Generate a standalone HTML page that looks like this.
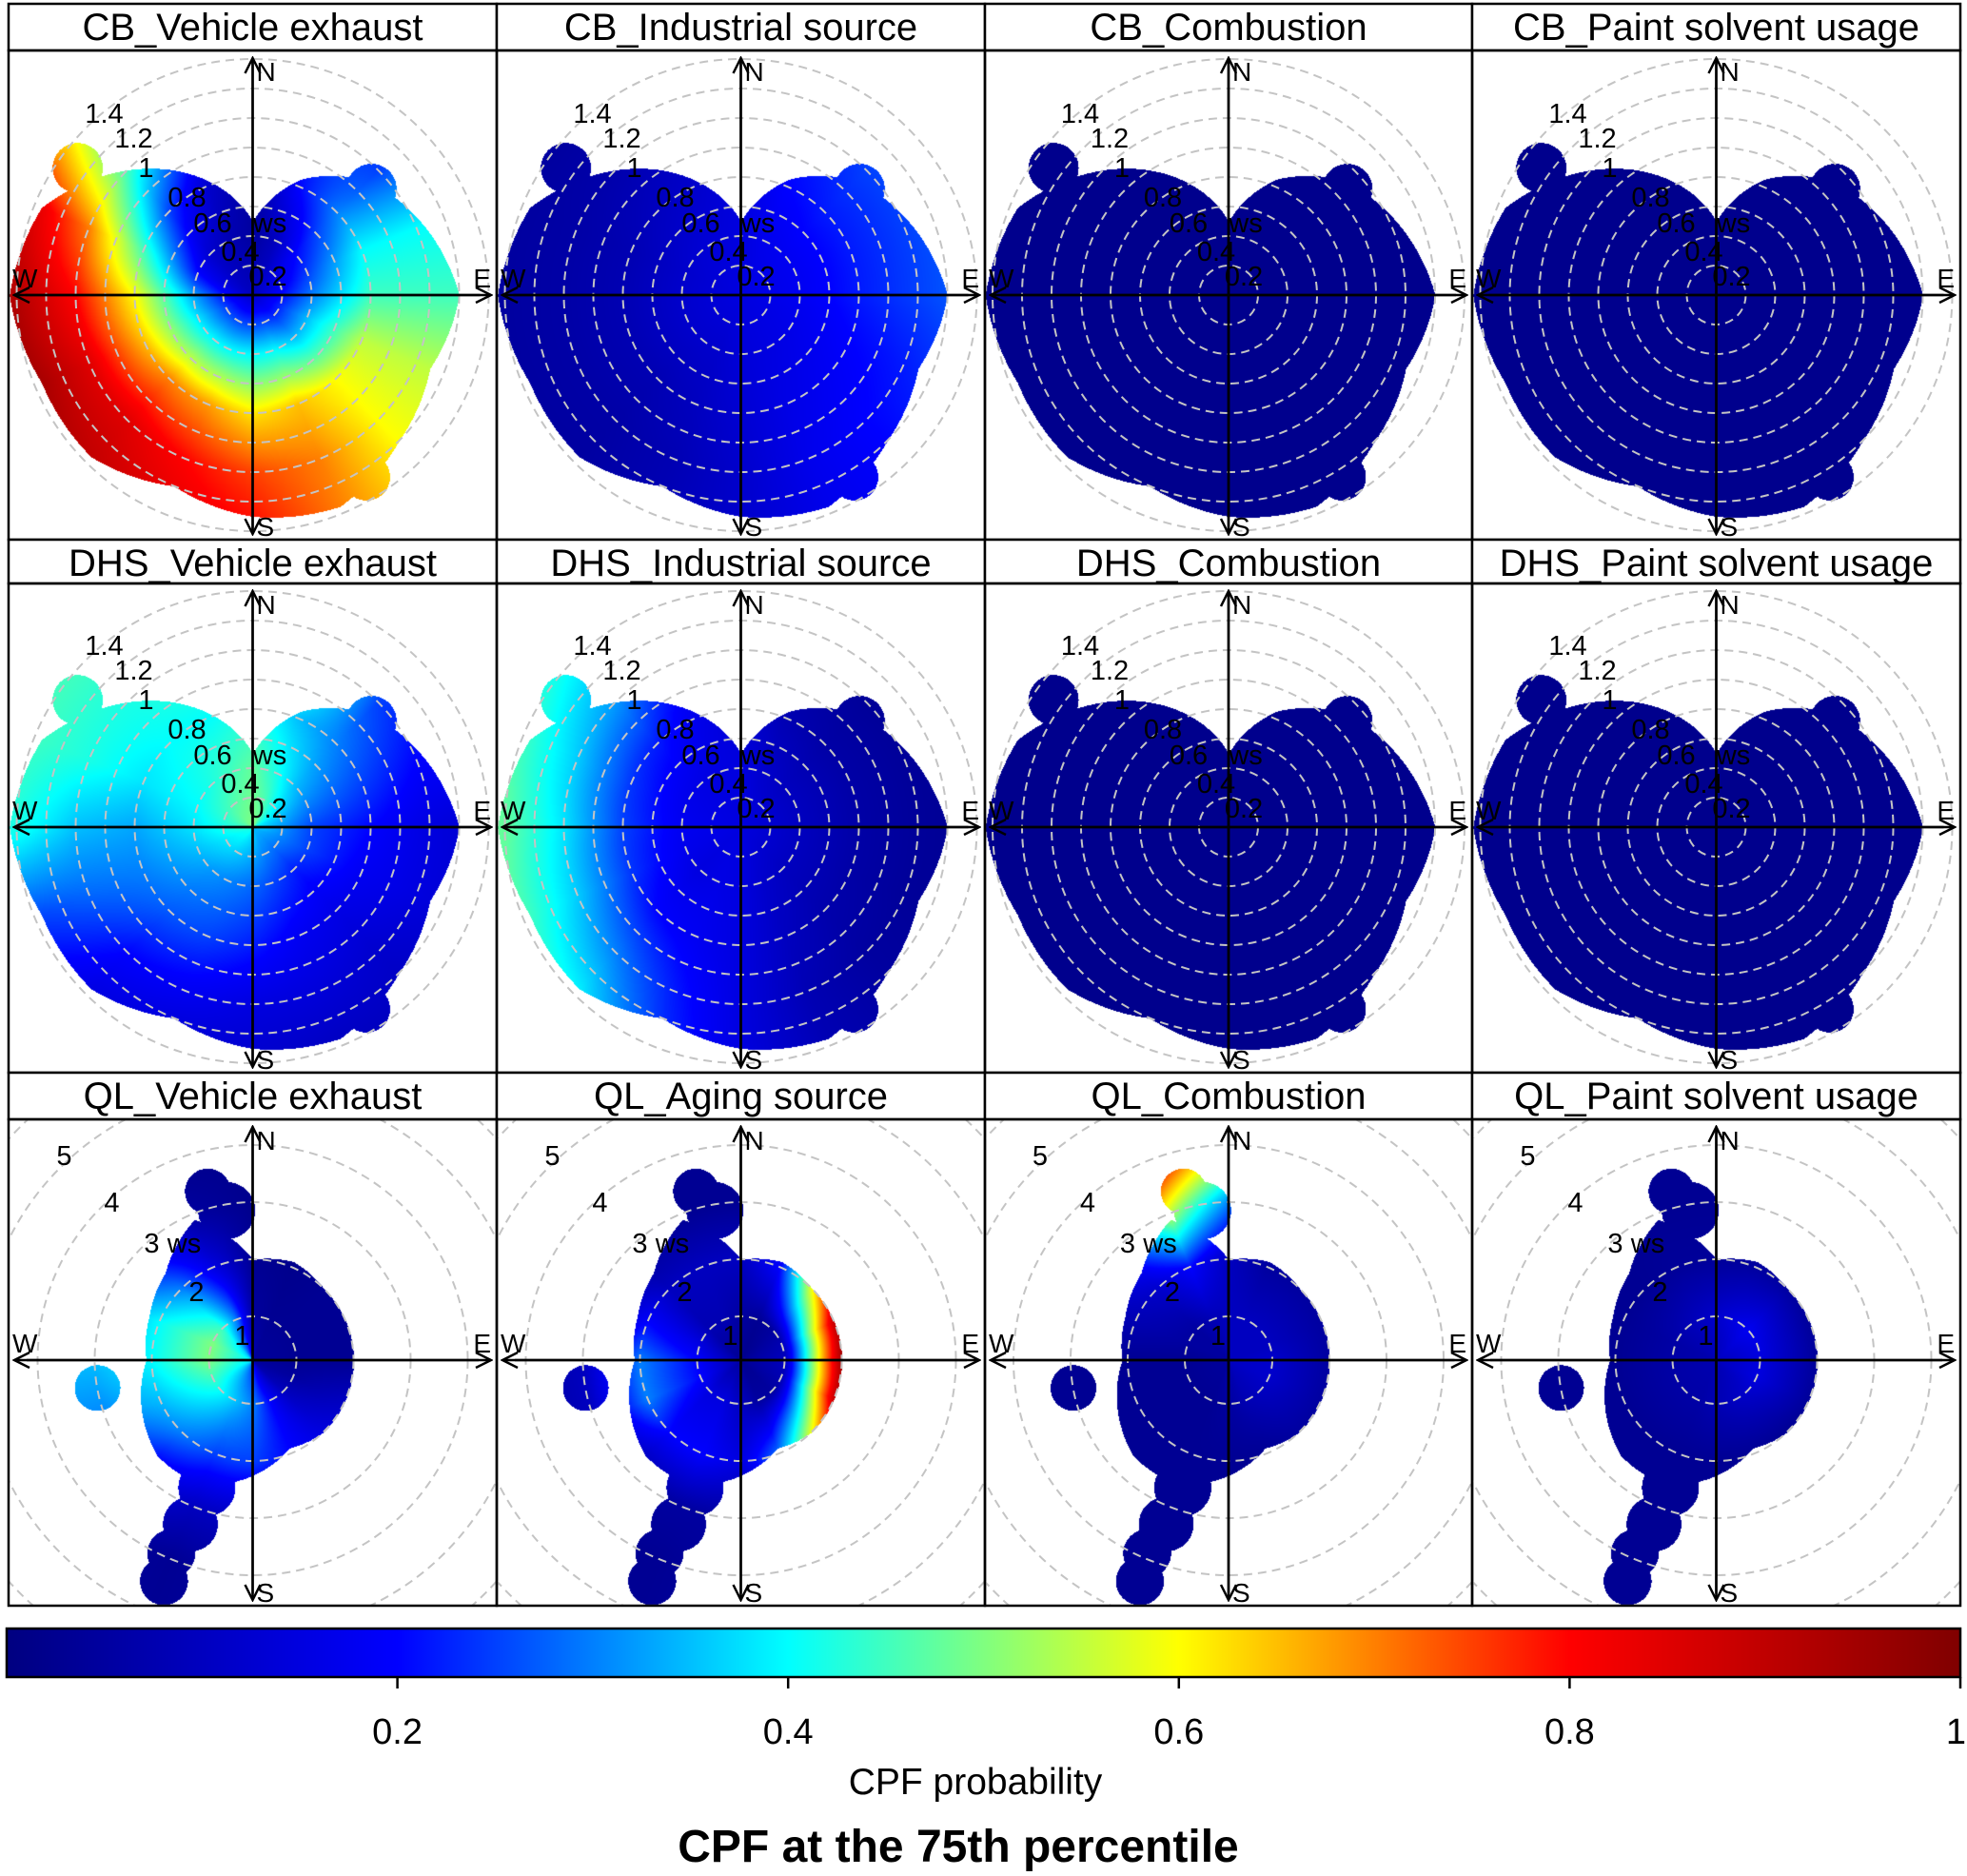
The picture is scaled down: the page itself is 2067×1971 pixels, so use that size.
<!DOCTYPE html>
<html><head><meta charset="utf-8">
<style>
html,body{margin:0;padding:0;background:#fff;}
#wrap{position:relative;width:2067px;height:1971px;overflow:hidden;}
canvas,svg{position:absolute;left:0;top:0;}
text{font-family:"Liberation Sans",sans-serif;}
</style></head>
<body>
<div id="wrap">
<canvas id="cv" width="2067" height="1971"></canvas>
<svg id="sv" width="2067" height="1971" xmlns="http://www.w3.org/2000/svg"></svg>
</div>
<script>
// ---- data ----
const dirNames = ['N','NNE','NE','ENE','E','ESE','SE','SSE','S','SSW','SW','WSW','W','WNW','NW','NNW'];
const wsLevelsA = [0,0.4,0.8,1.2,1.6];
const wsLevelsB = [0,1,2,3,4,5];
const ringLabelsA = [0.2,0.4,0.6,0.8,1,1.2,1.4];
const ringLabelsB = [1,2,3,4,5];
const colorTicks = [0.2,0.4,0.6,0.8,1];
const colorTickLabels = ['0.2','0.4','0.6','0.8','1'];
// outer extent (ws) per direction
const extentA = [0.5,0.85,1.1,1.25,1.4,1.3,1.4,1.55,1.5,1.4,1.55,1.55,1.65,1.55,1.2,0.85];
const extentB = [2.0,2.1,2.0,2.0,2.0,2.0,2.0,1.9,2.25,2.6,2.6,2.35,2.1,2.2,2.4,2.9];
// isolated blobs [direction deg, ws, radius ws]
const blobsA = [[306,1.47,0.17],[48,1.08,0.17],[148,1.45,0.16]];
const blobsB = [[350,2.9,0.5],[345,3.3,0.4],[200,2.6,0.5],[201,3.3,0.48],[203,3.9,0.42],[202,4.4,0.42],[260,3.0,0.4]];

const cbVehicle = [
[0.1,0.05,0.05,0.1,0.1],[0.1,0.1,0.2,0.25,0.25],[0.1,0.2,0.3,0.25,0.25],[0.1,0.25,0.4,0.4,0.4],
[0.12,0.3,0.45,0.45,0.45],[0.12,0.35,0.55,0.55,0.55],[0.12,0.35,0.6,0.6,0.6],[0.12,0.4,0.65,0.7,0.7],
[0.12,0.4,0.62,0.75,0.8],[0.12,0.4,0.68,0.8,0.85],[0.12,0.4,0.7,0.85,0.9],[0.12,0.38,0.65,0.85,0.95],
[0.1,0.33,0.6,0.8,0.92],[0.1,0.2,0.45,0.7,0.85],[0.1,0.12,0.25,0.45,0.55],[0.1,0.08,0.12,0.25,0.45]];
const cbIndustrial = [
[0.15,0.15,0.15,0.2,0.2],[0.15,0.17,0.2,0.22,0.25],[0.15,0.18,0.22,0.25,0.28],[0.15,0.18,0.22,0.25,0.28],
[0.15,0.18,0.22,0.25,0.28],[0.15,0.17,0.2,0.22,0.25],[0.15,0.16,0.18,0.2,0.2],[0.15,0.15,0.16,0.17,0.17],
[0.15,0.14,0.13,0.12,0.12],[0.15,0.12,0.1,0.08,0.08],[0.15,0.12,0.08,0.06,0.05],[0.15,0.12,0.08,0.06,0.05],
[0.15,0.12,0.08,0.06,0.05],[0.15,0.12,0.08,0.06,0.05],[0.15,0.13,0.1,0.07,0.05],[0.15,0.14,0.12,0.1,0.08]];
const cbFlat = [0.02,0.02,0.02,0.02,0.02];
const dhsVehicle = [
[0.5,0.48,0.42,0.45,0.5],[0.5,0.42,0.35,0.45,0.5],[0.45,0.35,0.3,0.25,0.25],[0.4,0.3,0.25,0.2,0.2],
[0.38,0.25,0.2,0.15,0.12],[0.35,0.25,0.18,0.15,0.12],[0.35,0.22,0.16,0.12,0.1],[0.35,0.25,0.18,0.14,0.1],
[0.38,0.28,0.22,0.15,0.12],[0.4,0.3,0.25,0.18,0.12],[0.42,0.32,0.27,0.2,0.15],[0.42,0.35,0.3,0.28,0.25],
[0.45,0.38,0.33,0.35,0.42],[0.48,0.4,0.38,0.42,0.45],[0.5,0.42,0.4,0.42,0.45],[0.5,0.45,0.4,0.45,0.5]];
const dhsIndustrial = [
[0.15,0.15,0.13,0.1,0.1],[0.15,0.12,0.08,0.05,0.05],[0.15,0.1,0.06,0.04,0.03],[0.15,0.1,0.06,0.04,0.03],
[0.15,0.1,0.06,0.04,0.03],[0.15,0.1,0.06,0.04,0.03],[0.15,0.1,0.07,0.05,0.05],[0.15,0.12,0.1,0.08,0.08],
[0.15,0.15,0.15,0.15,0.15],[0.15,0.16,0.18,0.22,0.25],[0.15,0.15,0.2,0.3,0.4],[0.15,0.17,0.24,0.36,0.46],
[0.15,0.18,0.25,0.38,0.48],[0.15,0.17,0.24,0.36,0.45],[0.15,0.16,0.22,0.32,0.4],[0.15,0.15,0.17,0.2,0.25]];
const qlVehicle = [
[0.1,0.05,0.03,0.02,0.02,0.02],[0.05,0.03,0.02,0.02,0.02,0.02],[0.05,0.03,0.03,0.02,0.02,0.02],[0.05,0.03,0.03,0.02,0.02,0.02],
[0.05,0.03,0.03,0.02,0.02,0.02],[0.05,0.05,0.1,0.05,0.02,0.02],[0.05,0.1,0.15,0.1,0.03,0.03],[0.1,0.2,0.2,0.1,0.03,0.03],
[0.2,0.3,0.25,0.1,0.05,0.05],[0.25,0.35,0.25,0.1,0.03,0.03],[0.3,0.4,0.3,0.15,0.05,0.05],[0.35,0.45,0.35,0.3,0.3,0.3],
[0.35,0.5,0.4,0.35,0.35,0.35],[0.35,0.5,0.4,0.3,0.2,0.2],[0.3,0.45,0.3,0.15,0.05,0.05],[0.2,0.3,0.15,0.05,0.02,0.02]];
const qlAging = [
[0.02,0.05,0.1,0.03,0.03,0.03],[0.02,0.03,0.2,0.1,0.1,0.1],[0.02,0.05,0.6,0.6,0.6,0.6],[0.02,0.08,0.9,0.95,0.95,0.95],
[0.02,0.1,0.95,0.95,0.95,0.95],[0.02,0.08,0.9,0.95,0.95,0.95],[0.02,0.05,0.6,0.6,0.6,0.6],[0.02,0.05,0.3,0.1,0.1,0.1],
[0.02,0.1,0.15,0.05,0.05,0.05],[0.02,0.15,0.2,0.05,0.03,0.03],[0.02,0.15,0.2,0.05,0.03,0.03],[0.02,0.2,0.3,0.1,0.05,0.05],
[0.02,0.2,0.3,0.1,0.05,0.05],[0.02,0.15,0.2,0.05,0.03,0.03],[0.02,0.08,0.1,0.03,0.03,0.03],[0.02,0.08,0.1,0.03,0.03,0.03]];
const qlCombustion = [
[0.1,0.1,0.1,0.3,0.6,0.6],[0.1,0.1,0.05,0.05,0.05,0.05],[0.1,0.1,0.05,0.03,0.03,0.03],[0.1,0.1,0.05,0.03,0.03,0.03],
[0.1,0.12,0.05,0.03,0.03,0.03],[0.1,0.12,0.05,0.03,0.03,0.03],[0.1,0.1,0.05,0.03,0.03,0.03],[0.1,0.08,0.03,0.03,0.03,0.03],
[0.08,0.05,0.03,0.03,0.03,0.03],[0.05,0.03,0.03,0.03,0.03,0.03],[0.05,0.03,0.03,0.03,0.03,0.03],[0.05,0.03,0.03,0.03,0.03,0.03],
[0.05,0.03,0.03,0.03,0.03,0.03],[0.05,0.05,0.08,0.1,0.1,0.1],[0.05,0.05,0.12,0.25,0.4,0.4],[0.05,0.08,0.2,0.55,0.9,0.9]];
const qlPaint = [
[0.08,0.12,0.04,0.03,0.03,0.03],[0.08,0.15,0.05,0.03,0.03,0.03],[0.08,0.18,0.05,0.03,0.03,0.03],[0.08,0.16,0.04,0.03,0.03,0.03],
[0.08,0.15,0.04,0.03,0.03,0.03],[0.08,0.15,0.04,0.03,0.03,0.03],[0.08,0.12,0.03,0.03,0.03,0.03],[0.08,0.1,0.03,0.03,0.03,0.03],
[0.08,0.08,0.03,0.03,0.03,0.03],[0.08,0.06,0.03,0.03,0.03,0.03],[0.08,0.06,0.03,0.03,0.03,0.03],[0.08,0.06,0.03,0.03,0.03,0.03],
[0.08,0.06,0.03,0.03,0.03,0.03],[0.08,0.06,0.03,0.03,0.03,0.03],[0.08,0.08,0.03,0.03,0.03,0.03],[0.08,0.1,0.04,0.03,0.03,0.03]];
const flatGrid = dirNames.map(()=>cbFlat);

const panels = [
 {title:'CB_Vehicle exhaust',row:0,col:0,grid:cbVehicle},
 {title:'CB_Industrial source',row:0,col:1,grid:cbIndustrial},
 {title:'CB_Combustion',row:0,col:2,grid:flatGrid},
 {title:'CB_Paint solvent usage',row:0,col:3,grid:flatGrid},
 {title:'DHS_Vehicle exhaust',row:1,col:0,grid:dhsVehicle},
 {title:'DHS_Industrial source',row:1,col:1,grid:dhsIndustrial},
 {title:'DHS_Combustion',row:1,col:2,grid:flatGrid},
 {title:'DHS_Paint solvent usage',row:1,col:3,grid:flatGrid},
 {title:'QL_Vehicle exhaust',row:2,col:0,grid:qlVehicle},
 {title:'QL_Aging source',row:2,col:1,grid:qlAging},
 {title:'QL_Combustion',row:2,col:2,grid:qlCombustion},
 {title:'QL_Paint solvent usage',row:2,col:3,grid:qlPaint}
];

// ---- layout ----
const colX = [9,522,1035,1547,2060];
const stripT = [4,567,1127], plotT=[53,613,1176], plotB=[567,1127,1687];
const rowCy = [310,869,1429];
const labOffA = [[16,-20],[-13,-46],[-42,-76],[-69,-103],[-112,-134],[-125,-165],[-156,-191]];
const labOffB = [[-11,-26],[-59,-72],[-106,-123],[-148,-166],[-198,-215]];
const wsOffA = [18,-76], wsOffB = [-72,-123];
function wsToR(row, ws){ return row<2 ? 155*ws : -14+60*ws; }
function rToWs(row, r){ return row<2 ? r/155 : (r+14)/60; }

function jet(v){
  v=Math.max(0,Math.min(1,v));
  const st=[[0,0,0,128],[0.2,0,0,255],[0.4,0,255,255],[0.6,255,255,0],[0.8,255,0,0],[1,128,0,0]];
  for(let i=0;i<st.length-1;i++){ if(v<=st[i+1][0]){ const t=(v-st[i][0])/(st[i+1][0]-st[i][0]);
    return [0,1,2].map(k=>Math.round(st[i][k+1]+(st[i+1][k+1]-st[i][k+1])*t)); } }
  return [128,0,0];
}
function interpDir(arr, ang){ const s=ang/22.5, i=Math.floor(s)%16, j=(i+1)%16, t=s-Math.floor(s); return arr[i]*(1-t)+arr[j]*t; }
function fieldVal(grid, levels, ang, ws){
  const s=ang/22.5, i=Math.floor(s)%16, j=(i+1)%16, t=s-Math.floor(s);
  let w=Math.min(ws, levels[levels.length-1]); let k=0;
  while(k<levels.length-2 && w>levels[k+1]) k++;
  const u=(w-levels[k])/(levels[k+1]-levels[k]);
  const a=grid[i][k]*(1-u)+grid[i][k+1]*u, b=grid[j][k]*(1-u)+grid[j][k+1]*u;
  return a*(1-t)+b*t;
}

// ---- draw fields ----
const cv=document.getElementById('cv'), ctx=cv.getContext('2d');
const img=ctx.createImageData(2067,1971), D=img.data;
for(const p of panels){
  const x0=colX[p.col], x1=colX[p.col+1], y0=plotT[p.row], y1=plotB[p.row];
  const cx=(x0+x1)/2, cy=rowCy[p.row];
  const ext = p.row<2?extentA:extentB, blobs=p.row<2?blobsA:blobsB, lev=p.row<2?wsLevelsA:wsLevelsB;
  const blobXY = blobs.map(b=>{const r=wsToR(p.row,b[1]); const a=b[0]*Math.PI/180; return [cx+r*Math.sin(a), cy-r*Math.cos(a), wsToR(p.row,b[1]+b[2])-wsToR(p.row,b[1])];});
  for(let y=y0+1;y<y1;y++) for(let x=x0+1;x<x1;x++){
    const dx=x-cx, dy=y-cy, r=Math.sqrt(dx*dx+dy*dy);
    let ang=Math.atan2(dx,-dy)*180/Math.PI; if(ang<0) ang+=360;
    const ws=rToWs(p.row,r);
    let inside = r<=wsToR(p.row, interpDir(ext,ang));
    if(!inside) for(const b of blobXY){ if((x-b[0])**2+(y-b[1])**2<=b[2]*b[2]){inside=true;break;} }
    if(!inside) continue;
    const c=jet(fieldVal(p.grid,lev,ang,ws)); const o=(y*2067+x)*4;
    D[o]=c[0];D[o+1]=c[1];D[o+2]=c[2];D[o+3]=255;
  }
}
ctx.putImageData(img,0,0);

// ---- overlay ----
const NS='http://www.w3.org/2000/svg', sv=document.getElementById('sv');
function mk(tag, attrs, parent){ const e=document.createElementNS(NS,tag); for(const k in attrs) e.setAttribute(k,attrs[k]); (parent||sv).appendChild(e); return e; }
const defs=mk('defs',{});
const grad=mk('linearGradient',{id:'jetg',x1:'0',x2:'1',y1:'0',y2:'0'},defs);
[[0,'#000080'],[0.2,'#0000ff'],[0.4,'#00ffff'],[0.6,'#ffff00'],[0.8,'#ff0000'],[1,'#800000']].forEach(s=>mk('stop',{offset:s[0],'stop-color':s[1]},grad));
const mkr=mk('marker',{id:'arr',markerWidth:'20',markerHeight:'20',refX:'18',refY:'10',orient:'auto',markerUnits:'userSpaceOnUse'},defs);
mk('path',{d:'M2,2 L18,10 L2,18',fill:'none',stroke:'#000','stroke-width':'2.5'},mkr);

panels.forEach((p,idx)=>{
  const x0=colX[p.col], x1=colX[p.col+1], y0=plotT[p.row], y1=plotB[p.row];
  const cx=(x0+x1)/2, cy=rowCy[p.row];
  const g=mk('g',{});
  
  
  const cp=mk('clipPath',{id:'cp'+idx},defs); mk('rect',{x:x0,y:y0,width:x1-x0,height:y1-y0},cp);
  const gg=mk('g',{'clip-path':'url(#cp'+idx+')'},g);
  const rings = p.row<2?[0.2,0.4,0.6,0.8,1,1.2,1.4,1.6]:[1,2,3,4,5,6];
  rings.forEach(w=>{ const c=mk('circle',{cx:cx,cy:cy,r:wsToR(p.row,w),fill:'none',stroke:'#c4c4c4','stroke-width':'2','stroke-dasharray':'9,6'},gg);
      });
  const L=(y1-y0)/2-10;
  const ax=[[cx,cy+L,cx,y0+8],[cx,cy-L,cx,y1-6],[cx+L-8,cy,x0+6,cy],[cx-L+8,cy,x1-6,cy]];
  ax.forEach(a=>{ const l=mk('line',{x1:a[0],y1:a[1],x2:a[2],y2:a[3],stroke:'#000','stroke-width':'2.5','marker-end':'url(#arr)'},g);
      });
  const cl=[['N',cx+4,y0+32,'start'],['S',cx+4,y1-4,'start'],['W',x0+4,cy-8,'start'],['E',x1-6,cy-8,'end']];
  cl.forEach(c=>{ const t=mk('text',{x:c[1],y:c[2],'font-size':'28','text-anchor':c[3],fill:'#000'},g); t.textContent=c[0];
      });
  const labs=p.row<2?ringLabelsA:ringLabelsB, offs=p.row<2?labOffA:labOffB;
  labs.forEach((w,i)=>{
    const t=mk('text',{x:cx+offs[i][0],y:cy+offs[i][1]+10,'font-size':'29','text-anchor':'middle',fill:'#000'},g); t.textContent=String(w);
      });
  const wo=p.row<2?wsOffA:wsOffB;
  const tw=mk('text',{x:cx+wo[0],y:cy+wo[1]+10,'font-size':'29','text-anchor':'middle',fill:'#000'},g); tw.textContent='ws';
   
  const sr=mk('rect',{x:x0,y:stripT[p.row],width:x1-x0,height:plotT[p.row]-stripT[p.row],fill:'#fff',stroke:'#000','stroke-width':'2.5'},g);
   
  const st=mk('text',{x:cx,y:stripT[p.row]+38,'font-size':'40','text-anchor':'middle',fill:'#000'},g); st.textContent=p.title;
   
  const br=mk('rect',{x:x0,y:y0,width:x1-x0,height:y1-y0,fill:'none',stroke:'#000','stroke-width':'2.5'},g);
   
});

// colour key
const cbX0=7, cbX1=2060, cbY0=1711, cbY1=1762;
function cx_(v){ return cbX0+v*(cbX1-cbX0); }
const cb=mk('rect',{x:cbX0,y:cbY0,width:cbX1-cbX0,height:cbY1-cbY0,fill:'url(#jetg)',stroke:'#000','stroke-width':'2.5'});
 
colorTicks.forEach((v,i)=>{
  const l=mk('line',{x1:cx_(v),x2:cx_(v),y1:cbY1,y2:cbY1+12,stroke:'#000','stroke-width':'2.5'});
   
  const t=mk('text',{x:cx_(v),y:1832,'font-size':'38','text-anchor':i===colorTicks.length-1?'end':'middle',fill:'#000'}); t.textContent=colorTickLabels[i];
  if(i===colorTicks.length-1) t.setAttribute('x',cx_(v)+6);
   
});
const kl=mk('text',{x:1025,y:1885,'font-size':'39','text-anchor':'middle',fill:'#000','xml:space':'preserve'}); kl.textContent='CPF  probability';
 
const tt=mk('text',{x:1007,y:1956,'font-size':'48','font-weight':'bold','text-anchor':'middle',fill:'#000'}); tt.textContent='CPF at the 75th percentile';
 
</script>
</body></html>
